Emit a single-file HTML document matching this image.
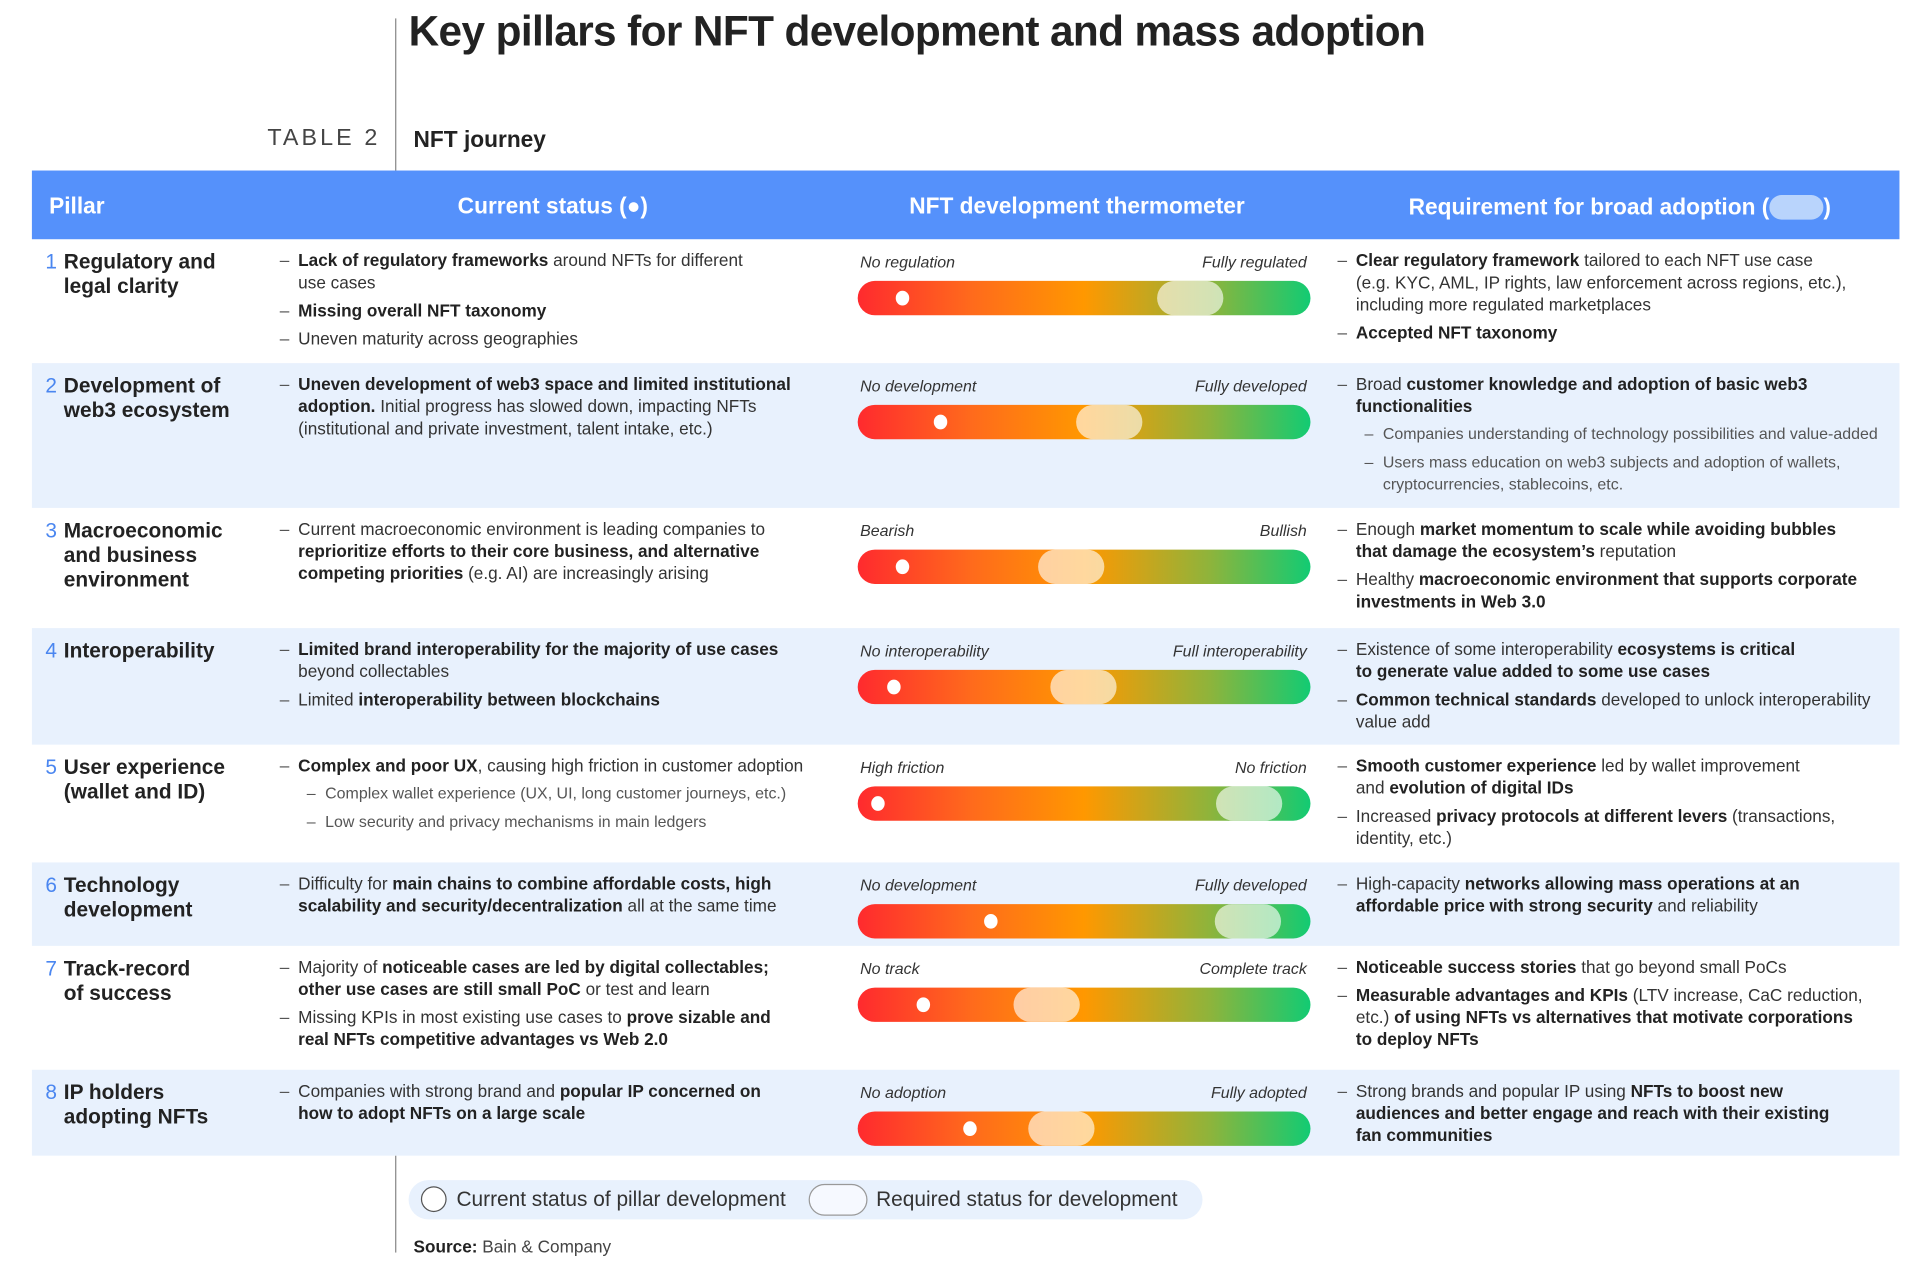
<!DOCTYPE html>
<html><head><meta charset="utf-8">
<style>
*{margin:0;padding:0;box-sizing:border-box}
html,body{width:1924px;height:1282px;overflow:hidden;background:#fff}
#stage{position:absolute;left:0;top:0;width:1568px;height:1045px;transform:scale(1.22704,1.22679);transform-origin:0 0;font-family:"Liberation Sans",Arial,sans-serif;color:#222}
.abs{position:absolute}
.title{left:333px;top:7px;font-size:34.5px;font-weight:bold;letter-spacing:-0.5px;white-space:nowrap}
.vline{position:absolute;left:322px;width:1px;background:#888}
.tbl{right:1258px;top:102px;font-size:19px;letter-spacing:2.5px;color:#444}
.journey{left:337px;top:103px;font-size:18.5px;font-weight:bold;color:#222}
.hdr{left:26px;top:139px;width:1522px;height:56px;background:#5591fb;color:#fff;font-weight:bold;font-size:18.5px}
.hdr span{position:absolute;top:18px;white-space:nowrap}
.row{position:absolute;left:26px;width:1522px}
.row.alt{background:#e8f1fd}
.num{position:absolute;left:11px;top:9px;font-size:17px;color:#4a86f0}
.pil{position:absolute;left:26px;top:9px;font-size:17px;font-weight:bold;line-height:20px;white-space:nowrap;color:#222}
.list{position:absolute;top:8px;font-size:14px;line-height:18px;color:#333;white-space:nowrap}
.list .b{position:relative;padding-left:15px;margin-bottom:5px}
.list .b:before{content:"–";position:absolute;left:0;top:0;color:#555}
.list .s{position:relative;padding-left:37px;font-size:13px;color:#555;margin-bottom:5px}
.list .s:before{content:"–";position:absolute;left:22px;top:0}
.cs{left:202px}
.rq{left:1064px}
b{font-weight:bold;color:#222}
.lab{position:absolute;top:11px;font-size:13px;font-style:italic;color:#333;white-space:nowrap}
.bar{position:absolute;left:673px;width:369px;height:28px;top:34px;border-radius:14px;background:linear-gradient(90deg,#ff2a2e 0%,#ff6a1c 25%,#ff9800 50%,#8db43c 78%,#12cb73 100%);overflow:hidden}
.dot{position:absolute;top:8px;width:11px;height:12px;border-radius:50%;background:#fff}
.pill{position:absolute;top:0;width:54px;height:28px;border-radius:14px;background:rgba(255,255,255,0.62)}
.legend{left:333px;top:962px;width:647px;height:32px;border-radius:16px;background:#e8f1fd;font-size:17px;color:#333}
.src{left:337px;top:1008px;font-size:14px;color:#444}
</style></head>
<body>
<div id="stage">
<div class="abs title">Key pillars for NFT development and mass adoption</div>
<div class="vline" style="top:15px;height:124px"></div>
<div class="vline" style="top:942px;height:79px"></div>
<div class="abs tbl">TABLE 2</div>
<div class="abs journey">NFT journey</div>
<div class="abs hdr">
 <span style="left:14px">Pillar</span>
 <span style="left:347px">Current status (●)</span>
 <span style="left:715px">NFT development thermometer</span>
 <span style="left:1122px;top:19px">Requirement for broad adoption (<span style="position:relative;display:inline-block;width:44px;height:20px;border-radius:10px;background:#b9d4fc;vertical-align:-4px;top:0"></span>)</span>
</div>

<div id="rows"></div>

<div class="abs legend">
 <div class="abs" style="left:10px;top:5px;width:21px;height:21px;border-radius:50%;border:1.5px solid #555;background:#fff"></div>
 <div class="abs" style="left:39px;top:6px;white-space:nowrap">Current status of pillar development</div>
 <div class="abs" style="left:326px;top:3px;width:48px;height:26px;border-radius:13px;border:1.5px solid #999;background:#f6f9ff"></div>
 <div class="abs" style="left:381px;top:6px;white-space:nowrap">Required status for development</div>
</div>
<div class="abs src"><b>Source:</b> Bain &amp; Company</div>
</div>

<script>
// Data: thermometer positions as % of scale
const pillars = ["Regulatory and<br>legal clarity","Development of<br>web3 ecosystem","Macroeconomic<br>and business<br>environment","Interoperability","User experience<br>(wallet and ID)","Technology<br>development","Track-record<br>of success","IP holders<br>adopting NFTs"];
const currentStatus = [10, 18.4, 10, 8.1, 4.6, 29.3, 14.6, 24.7];
const requiredStatus = [73.4, 55.5, 47.2, 49.9, 86.4, 86.2, 41.8, 45.0];
const leftLabels = ["No regulation","No development","Bearish","No interoperability","High friction","No development","No track","No adoption"];
const rightLabels = ["Fully regulated","Fully developed","Bullish","Full interoperability","No friction","Fully developed","Complete track","Fully adopted"];
const rowTops = [195,296,414,512,607,703,771,872,942];
const currentText = [
 '<div class="b"><b>Lack of regulatory frameworks</b> around NFTs for different<br>use cases</div><div class="b"><b>Missing overall NFT taxonomy</b></div><div class="b">Uneven maturity across geographies</div>',
 '<div class="b"><b>Uneven development of web3 space and limited institutional<br>adoption.</b> Initial progress has slowed down, impacting NFTs<br>(institutional and private investment, talent intake, etc.)</div>',
 '<div class="b">Current macroeconomic environment is leading companies to<br><b>reprioritize efforts to their core business, and alternative<br>competing priorities</b> (e.g. AI) are increasingly arising</div>',
 '<div class="b"><b>Limited brand interoperability for the majority of use cases</b><br>beyond collectables</div><div class="b">Limited <b>interoperability between blockchains</b></div>',
 '<div class="b"><b>Complex and poor UX</b>, causing high friction in customer adoption</div><div class="s">Complex wallet experience (UX, UI, long customer journeys, etc.)</div><div class="s">Low security and privacy mechanisms in main ledgers</div>',
 '<div class="b">Difficulty for <b>main chains to combine affordable costs, high<br>scalability and security/decentralization</b> all at the same time</div>',
 '<div class="b">Majority of <b>noticeable cases are led by digital collectables;<br>other use cases are still small PoC</b> or test and learn</div><div class="b">Missing KPIs in most existing use cases to <b>prove sizable and<br>real NFTs competitive advantages vs Web 2.0</b></div>',
 '<div class="b">Companies with strong brand and <b>popular IP concerned on<br>how to adopt NFTs on a large scale</b></div>'
];
const reqText = [
 '<div class="b"><b>Clear regulatory framework</b> tailored to each NFT use case<br>(e.g. KYC, AML, IP rights, law enforcement across regions, etc.),<br>including more regulated marketplaces</div><div class="b"><b>Accepted NFT taxonomy</b></div>',
 '<div class="b">Broad <b>customer knowledge and adoption of basic web3<br>functionalities</b></div><div class="s">Companies understanding of technology possibilities and value-added</div><div class="s">Users mass education on web3 subjects and adoption of wallets,<br>cryptocurrencies, stablecoins, etc.</div>',
 '<div class="b">Enough <b>market momentum to scale while avoiding bubbles<br>that damage the ecosystem’s</b> reputation</div><div class="b">Healthy <b>macroeconomic environment that supports corporate<br>investments in Web 3.0</b></div>',
 '<div class="b">Existence of some interoperability <b>ecosystems is critical<br>to generate value added to some use cases</b></div><div class="b"><b>Common technical standards</b> developed to unlock interoperability<br>value add</div>',
 '<div class="b"><b>Smooth customer experience</b> led by wallet improvement<br>and <b>evolution of digital IDs</b></div><div class="b">Increased <b>privacy protocols at different levers</b> (transactions,<br>identity, etc.)</div>',
 '<div class="b">High-capacity <b>networks allowing mass operations at an<br>affordable price with strong security</b> and reliability</div>',
 '<div class="b"><b>Noticeable success stories</b> that go beyond small PoCs</div><div class="b"><b>Measurable advantages and KPIs</b> (LTV increase, CaC reduction,<br>etc.) <b>of using NFTs vs alternatives that motivate corporations<br>to deploy NFTs</b></div>',
 '<div class="b">Strong brands and popular IP using <b>NFTs to boost new<br>audiences and better engage and reach with their existing<br>fan communities</b></div>'
];
const BAR_W = 369;
function xScale(v){ return v/100*BAR_W; }
const rowsEl = document.getElementById('rows');
pillars.forEach((p,i)=>{
  const r = document.createElement('div');
  r.className = 'row' + (i%2 ? ' alt' : '');
  r.style.top = rowTops[i]+'px';
  r.style.height = (rowTops[i+1]-rowTops[i])+'px';
  
  
  r.innerHTML =
   '<div class="num">'+(i+1)+'</div>'+
   '<div class="pil">'+p+'</div>'+
   '<div class="list cs">'+currentText[i]+'</div>'+
   '<div class="lab" style="left:675px">'+leftLabels[i]+'</div>'+
   '<div class="lab" style="right:483px">'+rightLabels[i]+'</div>'+
   '<div class="list rq">'+reqText[i]+'</div>';
  const bar = document.createElement('div');
  bar.className = 'bar';
  
  
  const pill = document.createElement('div');
  pill.className = 'pill';
  pill.style.left = (xScale(requiredStatus[i]) - 27)+'px';
  
  
  const dot = document.createElement('div');
  dot.className = 'dot';
  dot.style.left = (xScale(currentStatus[i]) - 5.5)+'px';
  
  
  bar.appendChild(pill); bar.appendChild(dot);
  r.appendChild(bar);
  rowsEl.appendChild(r);
});
</script>
</body></html>
